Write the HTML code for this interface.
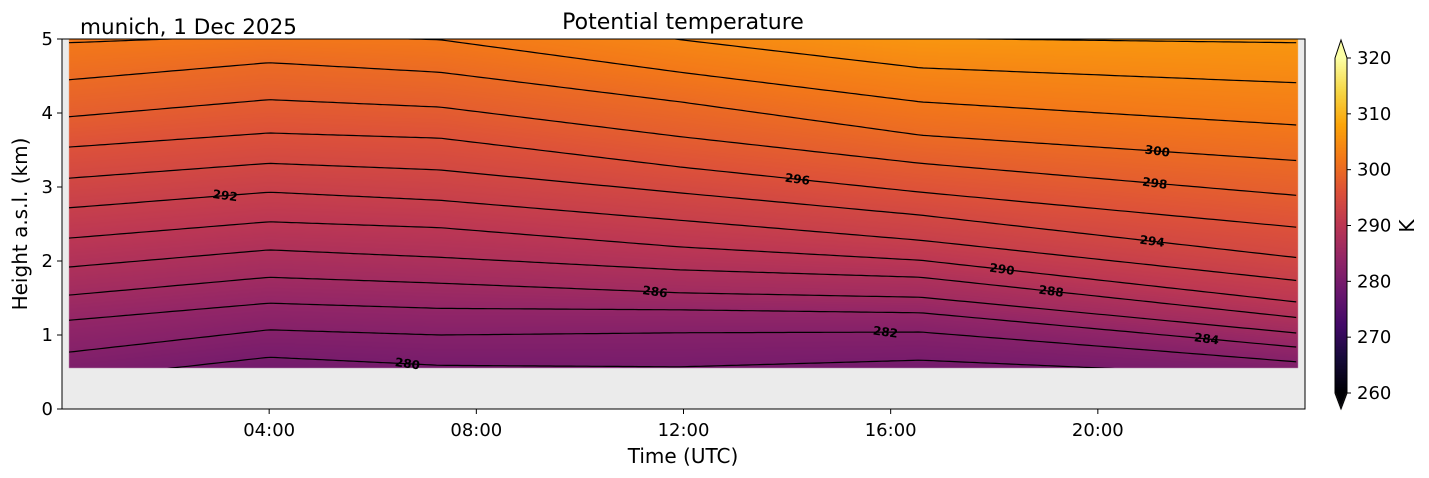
<!DOCTYPE html>
<html><head><meta charset="utf-8">
<style>
body{margin:0;background:#fff;width:1429px;height:478px;overflow:hidden;font-family:"DejaVu Sans","Liberation Sans",sans-serif;}
#wrap{position:relative;width:1429px;height:478px;}
canvas{position:absolute;left:0;top:0;}
svg{position:absolute;left:0;top:0;font-family:"DejaVu Sans","Liberation Sans",sans-serif;}
</style></head><body>
<div id="wrap">
<canvas id="cv" width="1429" height="478"></canvas>
<svg id="sv" width="1429" height="478"></svg>
</div>
<script>
// ---- data ----
const times = [0.15, 4.0, 7.3, 11.94, 16.58, 23.79];           // hours UTC
const levels = [280,282,284,286,288,290,292,294,296,298,300,302,304,306]; // K
// contour heights (km) for each level at each time
const h_t0 = [0.40,0.77,1.20,1.54,1.92,2.31,2.72,3.12,3.54,3.95,4.45,4.95,5.40,5.85];
const h_t1 = [0.70,1.07,1.43,1.78,2.15,2.53,2.93,3.32,3.73,4.18,4.68,5.05,5.50,5.95];
const h_t2 = [0.59,1.00,1.36,1.70,2.05,2.45,2.82,3.23,3.66,4.08,4.55,4.99,5.45,5.90];
const h_t3 = [0.57,1.03,1.34,1.57,1.88,2.19,2.55,2.92,3.27,3.68,4.15,4.55,4.99,5.40];
const h_t4 = [0.66,1.04,1.30,1.51,1.78,2.01,2.28,2.62,2.93,3.32,3.70,4.15,4.61,5.01];
const h_t5 = [0.44,0.64,0.84,1.03,1.24,1.45,1.74,2.05,2.46,2.89,3.36,3.84,4.41,4.95];
const labelLevels = [292,280,286,296,282,290,288,300,298,294,284];
const labelTimes  = [3.15,6.67,11.45,14.2,15.9,18.15,19.1,21.15,21.1,21.05,22.1];
const xTicks = [4,8,12,16,20];
const xTickLabels = ["04:00","08:00","12:00","16:00","20:00"];
const yTicks = [0,1,2,3,4,5];
const cbTicks = [260,270,280,290,300,310,320];
const dataTmin = 0.13, dataTmax = 23.87, dataZmin = 0.55;

// ---- scales ----
const X0=62,X1=1305,Y0=409,Y1=39;
const xs = t => X0 + t/24*(X1-X0);
const ys = z => Y0 - z/5*(Y0-Y1);
const heights=[h_t0,h_t1,h_t2,h_t3,h_t4,h_t5];
const vmin=260,vmax=320;
const stops=[[0,0,0,4],[0.1,22,11,57],[0.2,66,10,104],[0.3,106,23,110],[0.4,147,38,103],[0.5,188,55,84],[0.6,221,81,58],[0.7,243,120,25],[0.8,252,165,10],[0.9,246,215,70],[1,252,255,164]];
function cmap(v){let f=Math.max(0,Math.min(1,(v-vmin)/(vmax-vmin)));for(let i=1;i<stops.length;i++){if(f<=stops[i][0]){const a=stops[i-1],b=stops[i],u=(f-a[0])/(b[0]-a[0]);return [a[1]+u*(b[1]-a[1]),a[2]+u*(b[2]-a[2]),a[3]+u*(b[3]-a[3])];}}return stops[stops.length-1].slice(1);}
function hAt(t){let i=0;while(i<times.length-2&&t>times[i+1])i++;const u=(t-times[i])/(times[i+1]-times[i]);return levels.map((_,k)=>heights[i][k]+u*(heights[i+1][k]-heights[i][k]));}
function thetaAt(hs,z){let k=0;while(k<hs.length-2&&z>hs[k+1])k++;const u=(z-hs[k])/(hs[k+1]-hs[k]);return levels[k]+u*(levels[k+1]-levels[k]);}

// ---- field ----
const cv=document.getElementById('cv');const ctx=cv.getContext('2d');
ctx.fillStyle='#ebebeb';ctx.fillRect(X0,Y1,X1-X0,Y0-Y1);
const px0=Math.round(xs(dataTmin)),px1=Math.round(xs(dataTmax)),py0=Math.round(ys(dataZmin));
const img=ctx.createImageData(px1-px0,py0-Y1);
for(let x=px0;x<px1;x++){const t=(x+0.5-X0)/(X1-X0)*24;const hs=hAt(t);
 for(let y=Y1;y<py0;y++){const z=(Y0-(y+0.5))/(Y0-Y1)*5;const c=cmap(thetaAt(hs,z));const o=((y-Y1)*(px1-px0)+(x-px0))*4;img.data[o]=c[0];img.data[o+1]=c[1];img.data[o+2]=c[2];img.data[o+3]=255;}}
ctx.putImageData(img,px0,Y1);
// colorbar
const CX0=1335,CX1=1347,CY0=393,CY1=58;
for(let y=CY1;y<CY0;y++){const v=vmax-(y+0.5-CY1)/(CY0-CY1)*(vmax-vmin);const c=cmap(v);ctx.fillStyle=`rgb(${c[0]|0},${c[1]|0},${c[2]|0})`;ctx.fillRect(CX0,y,CX1-CX0,1);}
ctx.fillStyle='rgb(252,255,164)';ctx.beginPath();ctx.moveTo(CX0,CY1);ctx.lineTo(CX1,CY1);ctx.lineTo((CX0+CX1)/2,40);ctx.fill();
ctx.fillStyle='#000004';ctx.beginPath();ctx.moveTo(CX0,CY0);ctx.lineTo(CX1,CY0);ctx.lineTo((CX0+CX1)/2,409);ctx.fill();

// ---- svg ----
const NS='http://www.w3.org/2000/svg';const sv=document.getElementById('sv');
function el(tag,attrs,parent){const e=document.createElementNS(NS,tag);for(const k in attrs)e.setAttribute(k,attrs[k]);(parent||sv).appendChild(e);return e;}
function txt(s,attrs){const e=el('text',Object.assign({'font-size':18,fill:'#000'},attrs));e.textContent=s;return e;}
const defs=el('defs',{});const cp=el('clipPath',{id:'dc'},defs);
el('rect',{x:px0,y:Y1,width:px1-px0,height:py0-Y1},cp);
const cg=el('g',{'clip-path':'url(#dc)'});


levels.forEach((L,k)=>{
 const pts=[];for(let t=dataTmin;t<=dataTmax+0.01;t+=0.1){pts.push(xs(t).toFixed(1)+','+ys(hAt(t)[k]).toFixed(1));}
 const p=el('polyline',{points:pts.join(' '),fill:'none',stroke:'#000','stroke-width':1.2},cg);
 
 
});
labelLevels.forEach((L,i)=>{const k=levels.indexOf(L);const t=labelTimes[i];const z=hAt(t)[k];
 const x=xs(t),y=ys(z);
 const tx=txt(String(L),{x:x,y:y+4,'text-anchor':'middle','font-size':12,'font-weight':'bold',transform:`rotate(8 ${x} ${y})`});
 
 
});
// frame
const fr=el('rect',{x:X0,y:Y1,width:X1-X0,height:Y0-Y1,fill:'none',stroke:'#000','stroke-width':1});


xTicks.forEach((t,i)=>{el('line',{x1:xs(t),x2:xs(t),y1:Y0,y2:Y0+5,stroke:'#000'});
 const e=txt(xTickLabels[i],{x:xs(t),y:Y0+27,'text-anchor':'middle'});
 
 });
yTicks.forEach(v=>{el('line',{x1:X0-5,x2:X0,y1:ys(v),y2:ys(v),stroke:'#000'});
 const e=txt(String(v),{x:X0-9,y:ys(v)+6,'text-anchor':'end'});
 
 });
const cbF=el('path',{d:`M${CX0},${CY1} L1341,40 L${CX1},${CY1} L${CX1},${CY0} L1341,409 L${CX0},${CY0} Z`,fill:'none',stroke:'#000','stroke-width':1});


cbTicks.forEach(v=>{const y=CY0-(v-vmin)/(vmax-vmin)*(CY0-CY1);el('line',{x1:CX1,x2:CX1+4,y1:y,y2:y,stroke:'#000'});
 const e=txt(String(v),{x:CX1+10,y:y+6});
 
 });
let e;
e=txt('K',{x:1408,y:232,'font-size':20,'text-anchor':'middle',transform:'rotate(-90 1408 226)'});


e=txt('Potential temperature',{x:683,y:29,'font-size':22,'text-anchor':'middle'});


e=txt('munich, 1 Dec 2025',{x:80,y:34,'font-size':21.5});


e=txt('Time (UTC)',{x:683,y:463,'font-size':20,'text-anchor':'middle'});


e=txt('Height a.s.l. (km)',{x:27,y:224,'font-size':20,'text-anchor':'middle',transform:'rotate(-90 27 224)'});


</script>
</body></html>
